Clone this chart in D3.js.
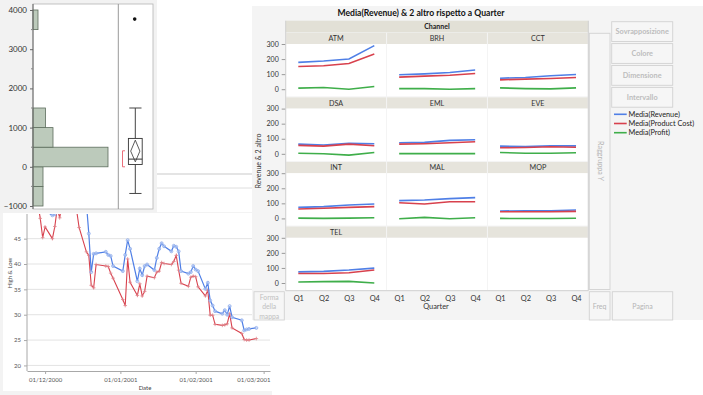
<!DOCTYPE html>
<html>
<head>
<meta charset="utf-8">
<script src="https://cdn.jsdelivr.net/npm/d3@7"></script>
<style>
  body { margin: 0; background: #fff; }
  svg { display: block; font-family: "Lato", "Open Sans", sans-serif; }
</style>
</head>
<body>
<main></main>
<script>
// ---- data: High & Low vs Date ----
const stockDates = [
  '2000-11-28','2000-11-29','2000-11-30','2000-12-01','2000-12-04','2000-12-05','2000-12-06','2000-12-07',
  '2000-12-08','2000-12-11','2000-12-12','2000-12-13','2000-12-14','2000-12-15','2000-12-18','2000-12-19',
  '2000-12-20','2000-12-21','2000-12-22','2000-12-26','2000-12-27','2000-12-28','2000-12-29','2001-01-02',
  '2001-01-03','2001-01-04','2001-01-05','2001-01-08','2001-01-09','2001-01-10','2001-01-11','2001-01-12',
  '2001-01-15','2001-01-16','2001-01-17','2001-01-18','2001-01-19','2001-01-22','2001-01-23','2001-01-24',
  '2001-01-25','2001-01-26','2001-01-29','2001-01-30','2001-01-31','2001-02-01','2001-02-02','2001-02-05',
  '2001-02-06','2001-02-07','2001-02-08','2001-02-09','2001-02-12','2001-02-13','2001-02-14','2001-02-15',
  '2001-02-16','2001-02-20','2001-02-21','2001-02-22','2001-02-23','2001-02-26'
];
const highValues = [
  54, 52, 51, 50.5, 49.6, 49.8, 52, 54,
  55, 56, 57, 55, 54, 53, 52, 46,
  38.4, 42, 42.1, 42.4, 41.8, 41.6, 39.6, 38.6,
  41.8, 44.7, 43, 36.6, 39.1, 37.8, 39.6, 39.9,
  38.8, 41.2, 43, 44.1, 43.5, 42.5, 43.6, 43.4,
  42.5, 38.6, 38.1, 38.4, 39.6, 38.9, 38.6, 35.1,
  36.3, 32.8, 31.8, 30.7, 30.2, 30.9, 30, 31.7,
  29.5, 28.9, 26.9, 27.1, 27.2, 27.4
];
const lowValues = [
  52, 49, 45.2, 47.3, 45, 47.4, 51, 49.1,
  52, 53, 54, 52.5, 50.5, 47.2, 42.4, 41.7,
  35.8, 35.3, 39.9, 39.6, 39.5, 38.2, 37.2, 33,
  31.8, 41, 36.4, 33.8, 36.1, 33.7, 34.6, 37.6,
  37.3, 38.4, 38.6, 40.3, 40.1, 39.9, 40.5, 41.7,
  38.8, 36.2, 35.6, 37.4, 37.6, 37.5, 35.5, 33.7,
  34.8, 29.9, 29.9, 28.1, 27.9, 28.0, 28.2, 30.2,
  27.4, 26.3, 25.1, 25.0, 25.0, 25.3
];
const dateTicks = ['2000-12-01', '2001-01-01', '2001-02-01', '2001-03-01'];
const lowHighTicks = [20, 25, 30, 35, 40, 45];

// ---- data: distribution ----
const histEdges = [-1000, -500, 0, 500, 1000, 1500, 2000, 2500, 3000, 3500, 4000];
const histCounts = [4, 4, 30, 8, 5, 0, 0, 0, 0, 2];
const boxFive = [-680, 60, 196, 724, 1500];   // min whisker, q1, median, q3, max whisker
const meanDiamond = [127, 400, 680];          // lower CI, mean, upper CI
const shortestHalf = [0, 408];
const outliers = [3768];
const distTicks = [-1000, 0, 1000, 2000, 3000, 4000];

// ---- data: Graph Builder ----
const channels = ['ATM', 'BRH', 'CCT', 'DSA', 'EML', 'EVE', 'INT', 'MAL', 'MOP', 'TEL'];
const quarters = ['Q1', 'Q2', 'Q3', 'Q4'];
const revenue     = [[178,187,200,289],[96,102,111,127],[73,78,89,98],[64,58,69,67],[73,76,89,93],
                     [51,49,53,53],[73,78,89,96],[118,122,131,138],[49,51,51,56],[74,77,86,99]];
const productCost = [[151,156,171,233],[80,87,93,104],[62,67,71,78],[56,51,64,53],[64,67,73,80],
                     [40,42,47,44],[62,67,73,78],[104,96,111,111],[44,44,44,47],[63,63,68,86]];
const profit      = [[7,11,0,18],[4,4,0,4],[9,4,2,9],[4,0,-9,9],[1,1,1,1],
                     [9,4,4,7],[2,0,2,4],[-2,7,-2,4],[0,-1,-1,1],[7,9,11,0]];
const seriesNames = ['Media(Revenue)', 'Media(Product Cost)', 'Media(Profit)'];
const gbTicks = [0, 100, 200, 300];

const blue = '#4f7fe6', red = '#d8414d', green = '#3fae4a';
const parse = d3.timeParse('%Y-%m-%d');

const svg = d3.select('main').append('svg').attr('width', 703).attr('height', 395);
svg.append('rect').attr('width', 703).attr('height', 395).attr('fill', '#fff');

// ---- window behind, partly visible ----
const behind = svg.append('g');
[[174, '#c9c9c9'], [188, '#dedede'], [213, '#e6e6e6']].forEach(function(l) {
  behind.append('line')
    .attr('x1', 156).attr('x2', 252).attr('y1', l[0]).attr('y2', l[0])
    .attr('stroke', l[1]);
});

// ---- line chart window ----
function drawLineChart() {
  const g = svg.append('g');
  g.append('rect').attr('x', 0).attr('y', 213).attr('width', 272).attr('height', 182).attr('fill', '#f3f3f3');
  g.append('rect').attr('x', 3).attr('y', 213).attr('width', 269).attr('height', 178).attr('fill', '#fff');

  const x = d3.scaleTime()
    .domain([new Date(2000, 10, 23, 13), new Date(2001, 2, 3, 15)])
    .range([27, 270]);
  const y = d3.scaleLinear().domain([18.9, 60]).range([371, 162.6]);

  g.append('clipPath').attr('id', 'lcClip')
    .append('rect').attr('x', 20).attr('y', 214).attr('width', 252).attr('height', 160);

  g.selectAll('line.grid')
    .data(lowHighTicks)
    .enter().append('line')
      .attr('class', 'grid')
      .attr('x1', 27).attr('x2', 270)
      .attr('y1', function(d) { return y(d); })
      .attr('y2', function(d) { return y(d); })
      .attr('stroke', '#e3e3e3');

  const yAxis = g.append('g').attr('transform', 'translate(27,0)')
    .call(d3.axisLeft(y).tickValues(lowHighTicks).tickSize(3).tickSizeOuter(0));
  yAxis.select('.domain').remove();
  yAxis.append('line').attr('y1', 214).attr('y2', 371).attr('stroke', '#a8a8a8');
  yAxis.selectAll('.tick line').attr('stroke', '#a8a8a8');
  yAxis.selectAll('text').attr('fill', '#555').attr('font-size', '6px').attr('font-family', 'Lato, sans-serif');

  const ticks = dateTicks.map(parse);
  const xAxis = g.append('g').attr('transform', 'translate(0,371)')
    .call(d3.axisBottom(x).tickValues(ticks).tickFormat(d3.timeFormat('%d/%m/%Y')).tickSize(3).tickSizeOuter(0));
  xAxis.select('.domain').attr('stroke', '#a8a8a8');
  xAxis.selectAll('.tick line').attr('stroke', '#a8a8a8');
  xAxis.selectAll('text').attr('fill', '#555').attr('font-size', '6px').attr('font-family', 'Lato, sans-serif').attr('dy', '0.9em');
  // JMP pulls the last label inside the frame
  xAxis.selectAll('.tick').filter(function(d, i) { return i === ticks.length - 1; })
    .select('text')
      .attr('text-anchor', 'end')
      .attr('x', 270 - x(ticks[ticks.length - 1]));

  g.append('text').attr('x', 145).attr('y', 390).attr('text-anchor', 'middle')
    .attr('font-size', '6px').attr('fill', '#444').text('Date');
  g.append('text').attr('transform', 'translate(12,273) rotate(-90)').attr('text-anchor', 'middle')
    .attr('font-size', '6px').attr('fill', '#444').text('High & Low');

  const pts = stockDates.map(function(d, i) { return { date: parse(d), high: highValues[i], low: lowValues[i] }; });
  const plot = g.append('g').attr('clip-path', 'url(#lcClip)');

  plot.append('path').datum(pts)
    .attr('fill', 'none').attr('stroke', red).attr('stroke-width', 1.1)
    .attr('d', d3.line().x(function(d) { return x(d.date); }).y(function(d) { return y(d.low); }));
  plot.selectAll('path.plus')
    .data(pts)
    .enter().append('path')
      .attr('class', 'plus')
      .attr('transform', function(d) { return 'translate(' + x(d.date) + ',' + y(d.low) + ')'; })
      .attr('d', 'M-1.8,0H1.8M0,-1.8V1.8')
      .attr('stroke', '#e0838a').attr('stroke-width', 0.8);

  plot.append('path').datum(pts)
    .attr('fill', 'none').attr('stroke', blue).attr('stroke-width', 1.2)
    .attr('d', d3.line().x(function(d) { return x(d.date); }).y(function(d) { return y(d.high); }));
  plot.selectAll('circle.hi')
    .data(pts)
    .enter().append('circle')
      .attr('class', 'hi')
      .attr('cx', function(d) { return x(d.date); })
      .attr('cy', function(d) { return y(d.high); })
      .attr('r', 1.5)
      .attr('fill', '#c2d3f6').attr('fill-opacity', 0.6)
      .attr('stroke', '#86a6ea').attr('stroke-width', 0.7);
}

// ---- distribution panel ----
function drawDistribution() {
  const g = svg.append('g');
  g.append('rect').attr('x', 0).attr('y', 0).attr('width', 157).attr('height', 213).attr('fill', '#f2f2f2');
  g.append('rect').attr('x', 33).attr('y', 4).attr('width', 120).attr('height', 205)
    .attr('fill', '#fff').attr('stroke', '#b4b4b4').attr('stroke-width', 0.8);

  const y = d3.scaleLinear().domain([-1000, 4000]).range([206, 10]);
  const x = d3.scaleLinear().domain([0, 34]).range([33, 118]);

  const bins = histCounts.map(function(c, i) { return { lo: histEdges[i], hi: histEdges[i + 1], n: c }; })
    .filter(function(b) { return b.n > 0; });
  g.selectAll('rect.bar')
    .data(bins)
    .enter().append('rect')
      .attr('class', 'bar')
      .attr('x', x(0))
      .attr('y', function(d) { return y(d.hi); })
      .attr('width', function(d) { return x(d.n) - x(0); })
      .attr('height', function(d) { return y(d.lo) - y(d.hi); })
      .attr('fill', '#bccabb').attr('stroke', '#5d6d5d').attr('stroke-width', 0.8);

  const yAxis = g.append('g').attr('transform', 'translate(33,0)')
    .call(d3.axisLeft(y).tickValues(distTicks).tickFormat(d3.format('d')).tickSize(3).tickSizeOuter(0));
  yAxis.select('.domain').attr('stroke', '#666').attr('d', 'M0,4V209');
  yAxis.selectAll('.tick line').attr('stroke', '#666');
  yAxis.selectAll('text').attr('fill', '#333').attr('font-size', '8px').attr('font-family', 'Lato, sans-serif');
  g.selectAll('line.minor')
    .data([-500, 500, 1500, 2500, 3500])
    .enter().append('line')
      .attr('class', 'minor')
      .attr('x1', 31).attr('x2', 33)
      .attr('y1', function(d) { return y(d); }).attr('y2', function(d) { return y(d); })
      .attr('stroke', '#888');

  g.append('line').attr('x1', 118.3).attr('x2', 118.3).attr('y1', 4).attr('y2', 209).attr('stroke', '#999');

  const cx = 135.3;
  g.append('line').attr('x1', cx).attr('x2', cx).attr('y1', y(boxFive[0])).attr('y2', y(boxFive[4])).attr('stroke', '#444');
  [boxFive[0], boxFive[4]].forEach(function(v) {
    g.append('line').attr('x1', 129.3).attr('x2', 141.5).attr('y1', y(v)).attr('y2', y(v)).attr('stroke', '#444');
  });
  g.append('rect').attr('x', 128.4).attr('y', y(boxFive[3]))
    .attr('width', 13.8).attr('height', y(boxFive[1]) - y(boxFive[3]))
    .attr('fill', '#fff').attr('stroke', '#333').attr('stroke-width', 0.9);
  g.append('line').attr('x1', 128.4).attr('x2', 142.2).attr('y1', y(boxFive[2])).attr('y2', y(boxFive[2])).attr('stroke', '#333');
  g.append('path')
    .attr('d', 'M' + cx + ',' + y(meanDiamond[2]) + 'L' + (cx + 4.6) + ',' + y(meanDiamond[1]) +
               'L' + cx + ',' + y(meanDiamond[0]) + 'L' + (cx - 4.6) + ',' + y(meanDiamond[1]) + 'Z')
    .attr('fill', 'none').attr('stroke', '#333').attr('stroke-width', 0.8);
  g.append('path')
    .attr('d', 'M125,' + y(shortestHalf[1]) + 'H122.5V' + y(shortestHalf[0]) + 'H125')
    .attr('fill', 'none').attr('stroke', '#e8606c').attr('stroke-width', 0.9);
  g.selectAll('circle.out')
    .data(outliers)
    .enter().append('circle')
      .attr('class', 'out')
      .attr('cx', 134.7).attr('cy', function(d) { return y(d); }).attr('r', 1.8).attr('fill', '#111');
}

// ---- Graph Builder ----
function drawGraphBuilder() {
  const g = svg.append('g');
  g.append('rect').attr('x', 252).attr('y', 6).attr('width', 451).attr('height', 314).attr('fill', '#f4f4f4');

  g.append('text').attr('x', 421).attr('y', 16).attr('text-anchor', 'middle')
    .attr('font-size', '8.6px').attr('font-weight', 'bold').attr('fill', '#111')
    .text('Media(Revenue) & 2 altro rispetto a Quarter');

  const gx0 = 285.7, gx1 = 588.3, colW = (gx1 - gx0) / 3;
  const rowTop0 = 32.3, rowH = 64.6, stripH = 11.7;

  g.append('rect').attr('x', gx0).attr('y', 20.7).attr('width', gx1 - gx0).attr('height', 11.6).attr('fill', '#e2e0d6');
  g.append('text').attr('x', (gx0 + gx1) / 2).attr('y', 29.3).attr('text-anchor', 'middle')
    .attr('font-size', '7px').attr('font-weight', 'bold').attr('fill', '#222').text('Channel');

  const series = [[revenue, blue], [productCost, red], [profit, green]];

  for (let r = 0; r < 4; ++r) {
    const top = rowTop0 + r * rowH;
    const pTop = top + stripH, pBot = top + rowH;
    const y = d3.scaleLinear().domain([-51, 300]).range([pBot, pTop]);

    // strips across the whole row
    for (let c = 0; c < 3; ++c) {
      const x0 = gx0 + c * colW;
      g.append('rect').attr('x', x0 + 0.5).attr('y', top + 0.5).attr('width', colW - 1).attr('height', stripH - 0.5)
        .attr('fill', '#e6e4dc');
      g.append('rect').attr('x', x0 + 0.5).attr('y', pTop).attr('width', colW - 1).attr('height', rowH - stripH - 0.6)
        .attr('fill', '#fff');
    }

    const yAxis = g.append('g').attr('transform', 'translate(' + gx0 + ',0)')
      .call(d3.axisLeft(y).tickValues(gbTicks).tickSize(4).tickSizeOuter(0));
    yAxis.select('.domain').remove();
    yAxis.selectAll('.tick line').attr('stroke', '#999');
    yAxis.selectAll('text').attr('fill', '#333').attr('font-size', '7px').attr('font-family', 'Lato, sans-serif');

    for (let c = 0; c < 3; ++c) {
      const k = r * 3 + c;
      if (k >= channels.length) continue;
      const x0 = gx0 + c * colW;
      const x = d3.scalePoint().domain(quarters).range([x0 + 12.6, x0 + 88.6]);

      g.append('text').attr('x', x0 + colW / 2).attr('y', top + 8.8).attr('text-anchor', 'middle')
        .attr('font-size', '7.2px').attr('fill', '#333').text(channels[k]);

      series.forEach(function(s) {
        g.append('path').datum(s[0][k])
          .attr('fill', 'none').attr('stroke', s[1]).attr('stroke-width', 1.6)
          .attr('d', d3.line().x(function(d, i) { return x(quarters[i]); }).y(function(d) { return y(d); }));
      });
    }
  }

  // grid frame lines
  g.append('line').attr('x1', gx0).attr('x2', gx0).attr('y1', 20.7).attr('y2', 290.7).attr('stroke', '#d0d0d0');
  g.append('line').attr('x1', gx1).attr('x2', gx1).attr('y1', 20.7).attr('y2', 290.7).attr('stroke', '#d0d0d0');
  g.append('line').attr('x1', gx0).attr('x2', gx1).attr('y1', 290.7).attr('y2', 290.7).attr('stroke', '#d0d0d0');

  // x axis labels under each column
  for (let c = 0; c < 3; ++c) {
    const x0 = gx0 + c * colW;
    const x = d3.scalePoint().domain(quarters).range([x0 + 12.6, x0 + 88.6]);
    const xa = g.append('g').attr('transform', 'translate(0,290.7)')
      .call(d3.axisBottom(x).tickSize(0));
    xa.select('.domain').remove();
    xa.selectAll('text').attr('fill', '#333').attr('font-size', '7.4px').attr('font-family', 'Lato, sans-serif').attr('dy', '0.95em');
  }
  g.append('text').attr('x', 436).attr('y', 308.5).attr('text-anchor', 'middle')
    .attr('font-size', '7.4px').attr('fill', '#333').text('Quarter');
  g.append('text').attr('transform', 'translate(261,161) rotate(-90)').attr('text-anchor', 'middle')
    .attr('font-size', '7px').attr('fill', '#333').text('Revenue & 2 altro');

  // drop zones and buttons
  const zone = function(x, y, w, h) {
    return g.append('rect').attr('x', x).attr('y', y).attr('width', w).attr('height', h)
      .attr('fill', '#f6f6f6').attr('stroke', '#d2d2d2').attr('stroke-width', 0.9);
  };
  zone(589.3, 33.3, 20.7, 256.2);
  g.append('text').attr('transform', 'translate(597.5,161) rotate(90)').attr('text-anchor', 'middle')
    .attr('font-size', '7.2px').attr('fill', '#b5b5b5').text('Raggruppa Y');

  const buttons = ['Sovrapposizione', 'Colore', 'Dimensione', 'Intervallo'];
  buttons.forEach(function(b, i) {
    const by = 21.7 + i * 21.9;
    zone(611.7, by, 61, 19.8);
    g.append('text').attr('x', 642.2).attr('y', by + 12.7).attr('text-anchor', 'middle')
      .attr('font-size', '7.3px').attr('font-weight', 'bold').attr('fill', '#bdbdbd').text(b);
  });

  const lg = g.selectAll('g.leg')
    .data(seriesNames)
    .enter().append('g')
      .attr('class', 'leg')
      .attr('transform', function(d, i) { return 'translate(614,' + (114.3 + i * 9.2) + ')'; });
  lg.append('line').attr('x1', 0).attr('x2', 12.7)
    .attr('stroke', function(d, i) { return [blue, red, green][i]; }).attr('stroke-width', 1.6);
  lg.append('text').attr('x', 14.5).attr('y', 2.6)
    .attr('font-size', '7.3px').attr('fill', '#222').text(function(d) { return d; });

  zone(589.3, 291.7, 20.7, 28.3);
  g.append('text').attr('x', 599.6).attr('y', 308.5).attr('text-anchor', 'middle')
    .attr('font-size', '7px').attr('fill', '#b5b5b5').text('Freq');
  zone(612.3, 291.7, 60.4, 28.3);
  g.append('text').attr('x', 642.5).attr('y', 308.5).attr('text-anchor', 'middle')
    .attr('font-size', '7px').attr('fill', '#b5b5b5').text('Pagina');
  zone(254, 291.7, 30.3, 28.3);
  ['Forma', 'della', 'mappa'].forEach(function(t, i) {
    g.append('text').attr('x', 269.2).attr('y', 299.5 + i * 9.6).attr('text-anchor', 'middle')
      .attr('font-size', '6.8px').attr('fill', '#c0c0c0').text(t);
  });
}

drawLineChart();
drawDistribution();
drawGraphBuilder();
</script>
</body>
</html>
